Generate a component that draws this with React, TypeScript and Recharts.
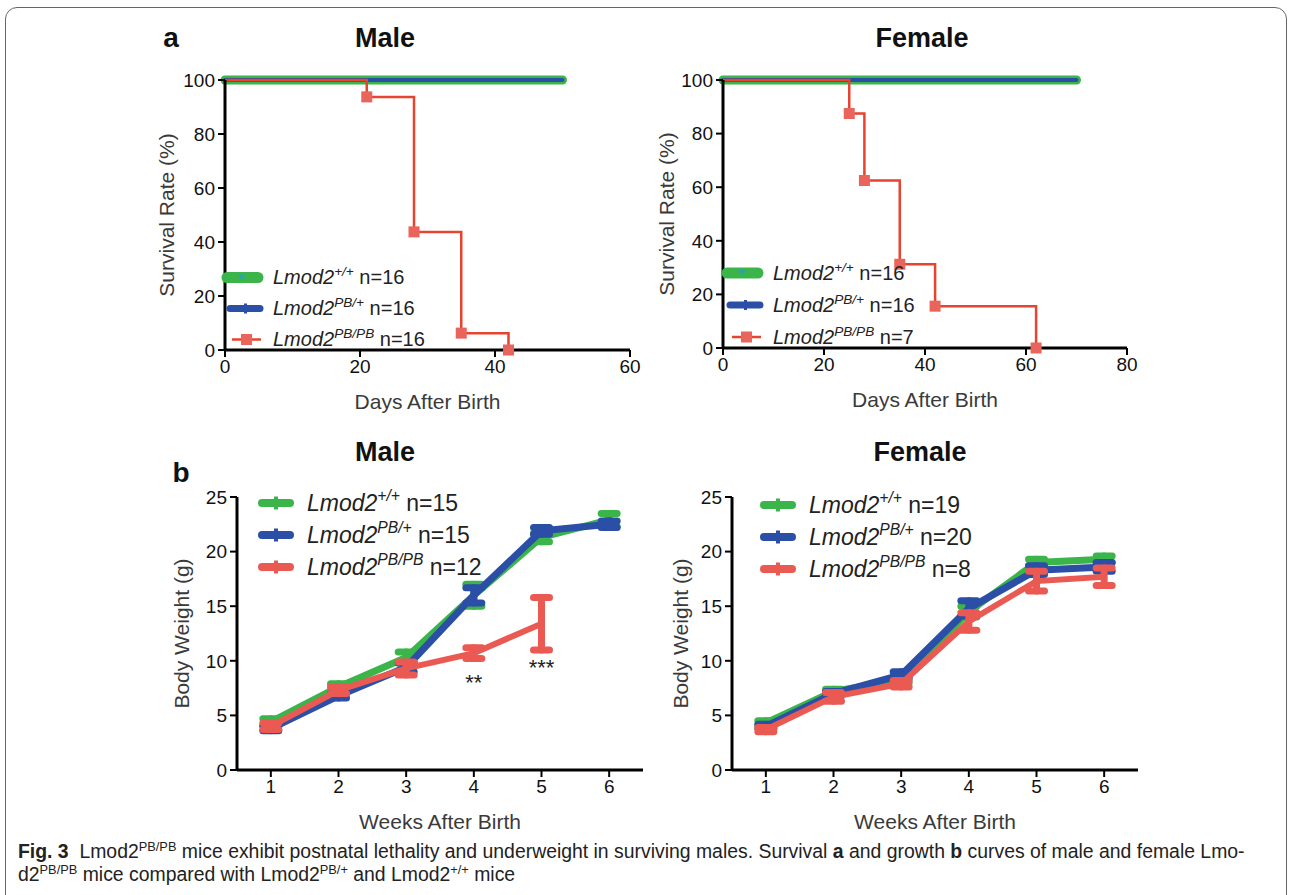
import React from 'react';
import { LineChart, Line, XAxis, YAxis, ErrorBar, Legend, Label, ReferenceDot } from 'recharts';

const FONT = '"Liberation Sans", Arial, Helvetica, sans-serif';
const CAP_FONT = '"Liberation Sans Narrow", "Liberation Sans", Arial, sans-serif';
const GREEN = '#3bb54a';
const BLUE = '#2b4fa6';
const RED_SURV = '#e8432f';
const RED_SQ = '#e9655b';
const RED_BW = '#ea5a52';

// ---------- Survival (panel a) ----------
const survYTicks = [0, 20, 40, 60, 80, 100];
const maleSurvXTicks = [0, 20, 40, 60];
const femaleSurvXTicks = [0, 20, 40, 60, 80];

const maleCtrlDays = [0, 50];
const maleWtSurvival = [100, 100];
const maleHetSurvival = [100, 100];
const maleKoDays = [0, 21, 28, 35, 42];
const maleKoSurvival = [100, 93.75, 43.75, 6.25, 0];

const femaleCtrlDays = [0, 70];
const femaleWtSurvival = [100, 100];
const femaleHetSurvival = [100, 100];
const femaleKoDays = [0, 25, 28, 35, 42, 62];
const femaleKoSurvival = [100, 87.5, 62.5, 31.25, 15.6, 0];

// ---------- Body weight (panel b) ----------
const weeks = [1, 2, 3, 4, 5, 6];
const weightTicks = [0, 5, 10, 15, 20, 25];

const maleWtWeight = [4.4, 7.6, 10.3, 16.0, 21.3, 22.9];
const maleWtErr = [0.3, 0.3, 0.5, 1.0, 0.4, 0.6];
const maleHetWeight = [3.8, 6.8, 9.4, 16.0, 21.9, 22.5];
const maleHetErr = [0.2, 0.2, 0.4, 0.7, 0.3, 0.3];
const maleKoWeeks = [1, 2, 3, 4, 5];
const maleKoWeight = [4.0, 7.3, 9.3, 10.7, 13.4];
const maleKoErr = [0.3, 0.3, 0.6, 0.5, 2.4];

const femaleWtWeight = [4.3, 7.2, 8.3, 14.5, 19.0, 19.3];
const femaleWtErr = [0.2, 0.2, 0.3, 0.5, 0.3, 0.3];
const femaleHetWeight = [4.0, 7.0, 8.7, 14.8, 18.3, 18.6];
const femaleHetErr = [0.2, 0.2, 0.3, 0.7, 0.4, 0.4];
const femaleKoWeight = [3.7, 6.7, 7.9, 13.6, 17.3, 17.7];
const femaleKoErr = [0.2, 0.4, 0.3, 0.8, 0.9, 0.8];

const sigWeeks = [4, 5];
const sigY = [8.0, 9.45];
const sigLabels = ['**', '***'];

// ---------- Legend labels ----------
const genotypeSups = ['+/+', 'PB/+', 'PB/PB'];
const maleSurvN = ['16', '16', '16'];
const femaleSurvN = ['16', '16', '7'];
const maleWeightN = ['15', '15', '12'];
const femaleWeightN = ['19', '20', '8'];
const seriesColors = [GREEN, BLUE, RED_BW];

const toPts = (xs: number[], ys: number[], errs?: number[]) =>
  xs.map((x, i) => ({ x, y: ys[i], err: errs ? errs[i] : 0 }));

const axisLine = { stroke: '#000', strokeWidth: 3 };
const tickLine = { stroke: '#000', strokeWidth: 2 };
const tickStyle = { fill: '#111', fontSize: 19, fontFamily: FONT };
const titleStyle = { fill: '#3a3a3a', fontSize: 21, fontFamily: FONT };

function sample(variant: string, i: number, color: string, h: number) {
  const c = h / 2;
  if (variant === 'surv') {
    if (i === 0)
      return (
        <g>
          <line x1={7} y1={c} x2={38} y2={c} stroke={GREEN} strokeWidth={11} strokeLinecap="round" />
          <path d={`M${18} ${c - 3} L${26} ${c - 3} L${22} ${c + 3} Z`} fill="#27a89c" />
        </g>
      );
    if (i === 1)
      return (
        <g>
          <line x1={10} y1={c} x2={40} y2={c} stroke={BLUE} strokeWidth={7} strokeLinecap="round" />
          <rect x={24} y={c - 5} width={3} height={10} fill={BLUE} />
        </g>
      );
    return (
      <g>
        <line x1={12} y1={c} x2={41} y2={c} stroke={RED_SURV} strokeWidth={2.5} />
        <rect x={21} y={c - 5.5} width={11} height={11} fill={RED_SQ} />
      </g>
    );
  }
  return (
    <g>
      <line x1={8} y1={c} x2={36} y2={c} stroke={color} strokeWidth={8} strokeLinecap="round" />
      <rect x={20} y={c - 6.5} width={4} height={13} fill={color} />
    </g>
  );
}

function LegendBox({ variant, ns, fontSize, rowH }: any) {
  return (
    <div style={{ fontFamily: FONT, fontSize, color: '#222' }}>
      {ns.map((n: string, i: number) => (
        <div key={i} style={{ display: 'flex', alignItems: 'center', height: rowH }}>
          <svg width={46} height={rowH} style={{ marginRight: 7, flex: 'none', display: 'block' }}>
            {sample(variant, i, seriesColors[i], rowH)}
          </svg>
          <span style={{ whiteSpace: 'nowrap', lineHeight: 1 }}>
            <i>Lmod2</i>
            <span style={{ fontSize: '0.68em', fontStyle: 'italic', position: 'relative', top: '-0.6em' }}>
              {genotypeSups[i]}
            </span>
            {' n=' + n}
          </span>
        </div>
      ))}
    </div>
  );
}

const SquareDot = (props: any) => {
  const { cx, cy, index } = props;
  if (!index || cx == null || cy == null) return <g key={`sq${index}`} />;
  return <rect key={`sq${index}`} x={cx - 5.5} y={cy - 5.5} width={11} height={11} fill={RED_SQ} />;
};

function SurvivalPanel(p: any) {
  return (
    <div style={{ position: 'absolute', left: p.L, top: p.T }}>
      <LineChart width={p.W} height={p.H} margin={{ top: 40, right: p.right, bottom: 0, left: 0 }}>
        <XAxis
          type="number"
          dataKey="x"
          domain={[0, p.xMax]}
          ticks={p.xTicks}
          height={104}
          axisLine={axisLine}
          tickLine={tickLine}
          tickSize={7}
          tickMargin={3}
          tick={tickStyle}
        >
          <Label value="Days After Birth" position="center" style={titleStyle} />
        </XAxis>
        <YAxis
          type="number"
          domain={[0, 100]}
          ticks={survYTicks}
          width={p.yW}
          axisLine={axisLine}
          tickLine={tickLine}
          tickSize={7}
          tickMargin={3}
          tick={tickStyle}
        >
          <Label value="Survival Rate (%)" angle={-90} position="center" style={titleStyle} />
        </YAxis>
        <Line data={p.wt} dataKey="y" type="linear" stroke={GREEN} strokeWidth={9} strokeLinecap="round" dot={false} isAnimationActive={false} />
        <Line data={p.het} dataKey="y" type="linear" stroke={BLUE} strokeWidth={4} strokeLinecap="round" dot={false} isAnimationActive={false} />
        <Line data={p.ko} dataKey="y" type="stepAfter" stroke={RED_SURV} strokeWidth={2.5} dot={SquareDot} isAnimationActive={false} />
        <Legend
          layout="horizontal"
          verticalAlign="middle"
          align="center"
          wrapperStyle={{ left: p.legL, top: p.legT, width: 300 }}
          content={() => <LegendBox variant="surv" ns={p.ns} fontSize={20} rowH={p.rowH} />}
        />
      </LineChart>
    </div>
  );
}

function WeightPanel(p: any) {
  return (
    <div style={{ position: 'absolute', left: p.L, top: p.T }}>
      <LineChart width={p.W} height={p.H} margin={{ top: 37, right: p.right, bottom: 0, left: 0 }}>
        <XAxis
          type="number"
          dataKey="x"
          domain={[0.5, 6.5]}
          ticks={weeks}
          height={104}
          axisLine={axisLine}
          tickLine={tickLine}
          tickSize={7}
          tickMargin={3}
          tick={tickStyle}
        >
          <Label value="Weeks After Birth" position="center" style={titleStyle} />
        </XAxis>
        <YAxis
          type="number"
          domain={[0, 25]}
          ticks={weightTicks}
          width={p.yW}
          axisLine={axisLine}
          tickLine={tickLine}
          tickSize={7}
          tickMargin={3}
          tick={tickStyle}
        >
          <Label value="Body Weight (g)" angle={-90} position="center" style={titleStyle} />
        </YAxis>
        <Line data={p.wt} dataKey="y" stroke={GREEN} strokeWidth={7} dot={false} isAnimationActive={false}>
          <ErrorBar dataKey="err" width={8} strokeWidth={7} stroke={GREEN} strokeLinecap="round" direction="y" />
        </Line>
        <Line data={p.het} dataKey="y" stroke={BLUE} strokeWidth={7} dot={false} isAnimationActive={false}>
          <ErrorBar dataKey="err" width={8} strokeWidth={7} stroke={BLUE} strokeLinecap="round" direction="y" />
        </Line>
        <Line data={p.ko} dataKey="y" stroke={RED_BW} strokeWidth={6} dot={false} isAnimationActive={false}>
          <ErrorBar dataKey="err" width={8} strokeWidth={7} stroke={RED_BW} strokeLinecap="round" direction="y" />
        </Line>
        {p.sig &&
          sigWeeks.map((w, i) => (
            <ReferenceDot
              key={i}
              x={w}
              y={sigY[i]}
              r={0}
              fill="none"
              stroke="none"
              label={{ value: sigLabels[i], position: 'center', fill: '#222', fontSize: 22, fontFamily: FONT }}
            />
          ))}
        <Legend
          layout="horizontal"
          verticalAlign="middle"
          align="center"
          wrapperStyle={{ left: p.legL, top: p.legT, width: 340 }}
          content={() => <LegendBox variant="bw" ns={p.ns} fontSize={23} rowH={32} />}
        />
      </LineChart>
    </div>
  );
}

const Title = ({ x, y, text, size }: any) => (
  <div
    style={{
      position: 'absolute',
      left: x,
      top: y,
      transform: 'translate(-50%, -50%)',
      fontFamily: FONT,
      fontWeight: 'bold',
      fontSize: size,
      color: '#111',
      whiteSpace: 'nowrap',
      lineHeight: 1,
    }}
  >
    {text}
  </div>
);

const sup = { fontSize: '0.66em', position: 'relative' as const, top: '-0.55em' };

export default function App() {
  return (
    <div style={{ position: 'absolute', left: 0, top: 0, width: 1290, height: 895, background: '#fff', overflow: 'hidden' }}>
      <div
        style={{
          position: 'absolute',
          left: 5,
          top: 7,
          width: 1280,
          height: 900,
          border: '1.5px solid #666',
          borderRadius: 12,
        }}
      />
      <Title x={171} y={38} text="a" size={28} />
      <Title x={385} y={38} text="Male" size={27} />
      <Title x={922} y={38} text="Female" size={27} />
      <Title x={181} y={473} text="b" size={28} />
      <Title x={385} y={452} text="Male" size={27} />
      <Title x={920} y={452} text="Female" size={27} />

      <SurvivalPanel
        L={109}
        T={40}
        W={541}
        H={414}
        right={20}
        yW={116}
        xMax={60}
        xTicks={maleSurvXTicks}
        wt={toPts(maleCtrlDays, maleWtSurvival)}
        het={toPts(maleCtrlDays, maleHetSurvival)}
        ko={toPts(maleKoDays, maleKoSurvival)}
        ns={maleSurvN}
        legL={111}
        legT={221.5}
        rowH={31}
      />
      <SurvivalPanel
        L={611}
        T={40}
        W={546}
        H={412}
        right={30}
        yW={112}
        xMax={80}
        xTicks={femaleSurvXTicks}
        wt={toPts(femaleCtrlDays, femaleWtSurvival)}
        het={toPts(femaleCtrlDays, femaleHetSurvival)}
        ko={toPts(femaleKoDays, femaleKoSurvival)}
        ns={femaleSurvN}
        legL={109}
        legT={217}
        rowH={32}
      />
      <WeightPanel
        L={127}
        T={460}
        W={536}
        H={414}
        right={20}
        yW={110}
        wt={toPts(weeks, maleWtWeight, maleWtErr)}
        het={toPts(weeks, maleHetWeight, maleHetErr)}
        ko={toPts(maleKoWeeks, maleKoWeight, maleKoErr)}
        ns={maleWeightN}
        legL={127}
        legT={27}
        sig
      />
      <WeightPanel
        L={630}
        T={460}
        W={528}
        H={414}
        right={20}
        yW={102}
        wt={toPts(weeks, femaleWtWeight, femaleWtErr)}
        het={toPts(weeks, femaleHetWeight, femaleHetErr)}
        ko={toPts(weeks, femaleKoWeight, femaleKoErr)}
        ns={femaleWeightN}
        legL={126}
        legT={29}
      />

      <div
        style={{
          position: 'absolute',
          left: 18,
          top: 841,
          fontFamily: CAP_FONT,
          fontSize: 19.4,
          color: '#222',
          whiteSpace: 'nowrap',
          lineHeight: '21px',
        }}
      >
        <div>
          <b>Fig. 3</b>&nbsp;&nbsp;Lmod2<span style={sup}>PB/PB</span> mice exhibit postnatal lethality and underweight in
          surviving males. Survival <b>a</b> and growth <b>b</b> curves of male and female Lmo-
        </div>
        <div>
          d2<span style={sup}>PB/PB</span> mice compared with Lmod2<span style={sup}>PB/+</span> and Lmod2
          <span style={sup}>+/+</span> mice
        </div>
      </div>
    </div>
  );
}
